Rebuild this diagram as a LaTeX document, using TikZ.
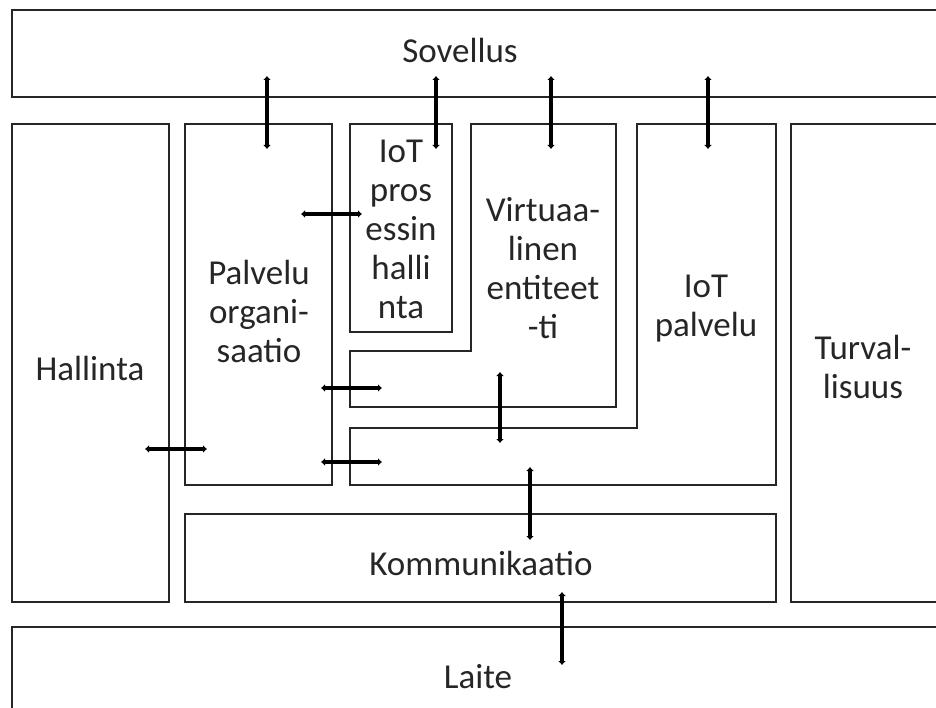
\documentclass[tikz,border=0pt]{standalone}
\usepackage{fontspec}
\setmainfont{Carlito}
\usetikzlibrary{arrows.meta}
\begin{document}
\begin{tikzpicture}[x=1pt,y=-1pt,
  box/.style={draw=black!85,line width=1.3pt},
  lbl/.style={font=\fontsize{35}{39}\selectfont,align=center,text=black!85,inner sep=0pt},
  link/.style={line width=3.6pt,{Latex[length=4pt,width=8pt]}-{Latex[length=4pt,width=8pt]}}]
\useasboundingbox (0,0) rectangle (936,708);
\clip (0,0) rectangle (936,708);
% boxes
\draw[box] (945,10) -- (12,10) -- (12,97) -- (945,97);
\draw[box] (945,627) -- (12,627) -- (12,720);
\draw[box] (12,124) rectangle (169,602);
\draw[box] (185,124) rectangle (332,485);
\draw[box] (350,124) rectangle (452,332);
\draw[box] (471,124) -- (616,124) -- (616,407) -- (350,407) -- (350,351) -- (471,351) -- cycle;
\draw[box] (637,124) -- (776,124) -- (776,485) -- (350,485) -- (350,428) -- (637,428) -- cycle;
\draw[box] (945,124) -- (791,124) -- (791,602) -- (945,602);
\draw[box] (185,514) rectangle (776,602);
% labels
\node[lbl] (sov) at (460,50) {Sovellus};
\node[lbl] (hal) at (90,368) {Hallinta};
\node[lbl] (pal) at (259,311) {Palvelu\\organi-\\saatio};
\node[lbl] (iotp) at (401,229) {IoT\\pros\\essin\\halli\\nta};
\node[lbl] (vir) at (543,268) {Virtuaa-\\linen\\entiteet\\-ti};
\node[lbl] (iotpal) at (706,309) {IoT\\palvelu};
\node[lbl] (tur) at (863,367) {Turval-\\lisuus};
\node[lbl] (kom) at (481,563) {Kommunikaatio};
\node[lbl] (lai) at (478,677) {Laite};
% connector end points
\coordinate (a1) at (267,76); \coordinate (b1) at (267,149);
\coordinate (a2) at (436,76); \coordinate (b2) at (436,149);
\coordinate (a3) at (551,76); \coordinate (b3) at (551,149);
\coordinate (a4) at (708,76); \coordinate (b4) at (708,149);
\coordinate (a5) at (301,214); \coordinate (b5) at (362,214);
\coordinate (a6) at (321,388); \coordinate (b6) at (382,388);
\coordinate (a7) at (321,462); \coordinate (b7) at (382,462);
\coordinate (a8) at (500,372); \coordinate (b8) at (500,443);
\coordinate (a9) at (530,467); \coordinate (b9) at (530,540);
\coordinate (a10) at (145,449); \coordinate (b10) at (207,449);
\coordinate (a11) at (562,592); \coordinate (b11) at (562,665);
\foreach \i in {1,...,11} {\draw[link] (a\i) -- (b\i);}
\end{tikzpicture}
\end{document}
